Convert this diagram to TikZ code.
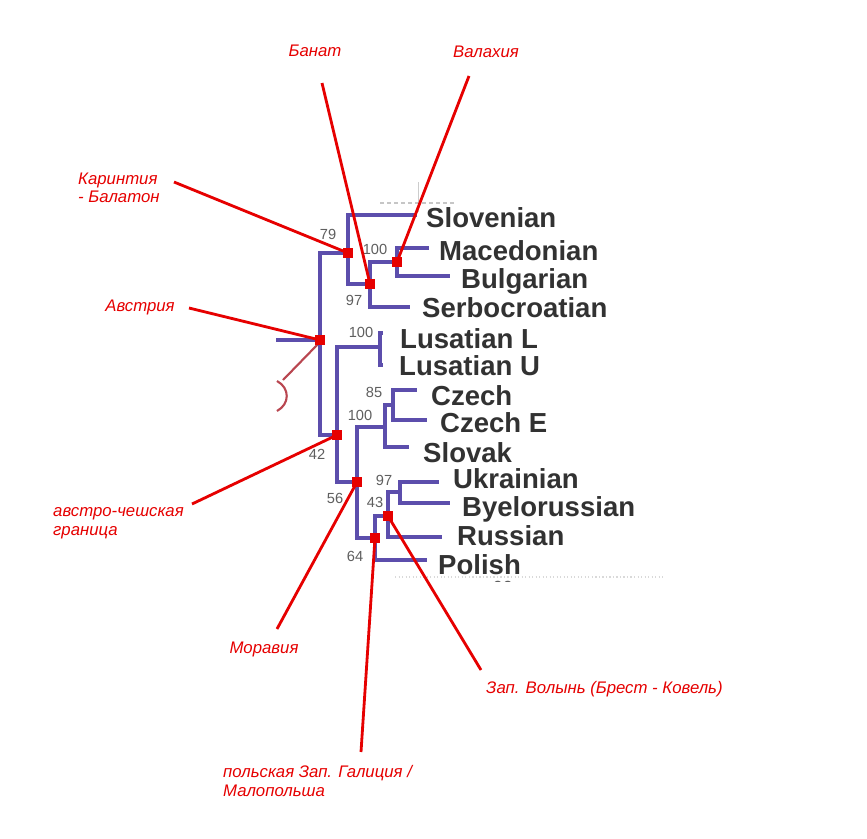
\documentclass[tikz,border=0pt]{standalone}
\usepackage{fontspec}
\setmainfont{Liberation Sans}
\usetikzlibrary{positioning}
\definecolor{treeblue}{RGB}{92,78,172}
\definecolor{notered}{RGB}{230,0,0}
\definecolor{langgray}{RGB}{50,50,50}
\definecolor{bootgray}{RGB}{95,95,95}
\definecolor{oldred}{RGB}{185,70,80}

\begin{document}
\begin{tikzpicture}[
  x=0.03cm, y=-0.03cm,
  branch/.style={draw=treeblue, line width=4.2pt, line cap=rect},
  lang/.style={anchor=base west, inner sep=0pt, text=langgray,
               font=\fontsize{23.5}{26}\selectfont\bfseries},
  boot/.style={inner sep=0pt, text=bootgray, font=\fontsize{12.5}{14}\selectfont},
  region/.style={inner sep=0pt, text=notered, align=left,
                 font=\fontsize{14.3}{15.8}\selectfont\itshape},
  lead/.style={draw=notered, line width=2.4pt},
  redsq/.style={fill=notered, inner sep=0pt, minimum size=8.5pt}
]
\fill[white] (0,0) rectangle (867,838);
\useasboundingbox (0,0) rectangle (867,838);

% inner nodes of the tree
\coordinate (stub) at (278,340);
\coordinate (root) at (320,340);
\coordinate (south) at (348,253);
\coordinate (westeast) at (337,435);
\coordinate (banatn) at (370,284);
\coordinate (walach) at (397,262);
\coordinate (lus) at (380,347);
\coordinate (morav) at (357,482);
\coordinate (czsk) at (385,427);
\coordinate (czpair) at (393,405);
\coordinate (galic) at (375,538);
\coordinate (volyn) at (388,516);
\coordinate (ukrbye) at (400,492);
% leaf tips
\coordinate (slo) at (415,215);
\coordinate (mac) at (427,248);
\coordinate (bul) at (448,276);
\coordinate (ser) at (408,307);
\coordinate (lusl) at (381,333);
\coordinate (lusu) at (381,365);
\coordinate (cze) at (415,390);
\coordinate (czee) at (425,420);
\coordinate (slk) at (407,447);
\coordinate (ukr) at (437,482);
\coordinate (bye) at (448,503);
\coordinate (rus) at (440,537);
\coordinate (pol) at (425,560);

% left-over bits of the scanned figure
\draw[oldred, line width=1.8pt] (319,343) -- (283,380);
\draw[oldred, line width=1.8pt] (277,381) .. controls (290,388) and (290,404) .. (277,411);
\draw[gray!45, dashed, line width=1.5pt] (380,203) -- (455,203);
\draw[gray!40, line width=0.8pt] (418,182) -- (418,212);
\draw[gray!30, dotted, line width=1pt] (395,577) -- (665,577);
\begin{scope}
  \clip (480,568) rectangle (530,581);
  \node[boot, font=\fontsize{15}{16}\selectfont] (b99) at (503,587) {99};
\end{scope}

\draw[branch] (stub) -- (root);
\foreach \a/\b in {root/south, root/westeast, south/slo, south/banatn,
                   banatn/walach, banatn/ser, walach/mac, walach/bul,
                   westeast/lus, westeast/morav, lus/lusl, lus/lusu,
                   morav/czsk, morav/galic, czsk/czpair, czsk/slk,
                   czpair/cze, czpair/czee, galic/volyn, galic/pol,
                   volyn/ukrbye, volyn/rus, ukrbye/ukr, ukrbye/bye}
  \draw[branch] (\a) |- (\b);

% languages
\node[lang] (slovenian) at (426,227) {Slovenian};
\node[lang] (macedonian) at (439,260) {Macedonian};
\node[lang] (bulgarian) at (461,288) {Bulgarian};
\node[lang] (serbocroatian) at (422,317) {Serbocroatian};
\node[lang] (lusatianl) at (400,348) {Lusatian L};
\node[lang] (lusatianu) at (399,375) {Lusatian U};
\node[lang] (czech) at (431,405) {Czech};
\node[lang] (czeche) at (440,432) {Czech E};
\node[lang] (slovak) at (423,462) {Slovak};
\node[lang] (ukrainian) at (453,488) {Ukrainian};
\node[lang] (byelorussian) at (462,516) {Byelorussian};
\node[lang] (russian) at (457,545) {Russian};
\node[lang] (polish) at (438,574) {Polish};

% bootstrap values
\node[boot] (b79) at (328,234) {79};
\node[boot] (b100a) at (375,249) {100};
\node[boot] (b97a) at (354,300) {97};
\node[boot] (b100b) at (361,332) {100};
\node[boot] (b85) at (374,392) {85};
\node[boot] (b100c) at (360,415) {100};
\node[boot] (b42) at (317,454) {42};
\node[boot] (b56) at (335,498) {56};
\node[boot] (b97b) at (384,480) {97};
\node[boot] (b43) at (375,502) {43};
\node[boot] (b64) at (355,556) {64};

% regions
\node[region] (banat) at (315,51) {Банат};
\node[region] (valahia) at (486,52) {Валахия};
\node[region, anchor=west] (karint) at (78,188) {Каринтия\\- Балатон};
\node[region] (avstria) at (140,307) {Австрия};
\node[region, anchor=west] (granica) at (53,523) {австро-чешская\\граница};
\node[region] (moravia) at (264,649) {Моравия};
\node[region, anchor=west] (galicia) at (223,781) {польская Зап. Галиция /\\Малопольша};
\node[region, anchor=west] (volynlab) at (486,689) {Зап. Волынь (Брест - Ковель)};

\coordinate (banat-a) at (322,83);
\coordinate (valahia-a) at (469,76);
\coordinate (karint-a) at (174,182);
\coordinate (avstria-a) at (189,308);
\coordinate (granica-a) at (192,504);
\coordinate (moravia-a) at (277,629);
\coordinate (galicia-a) at (361,752);
\coordinate (volynlab-a) at (481,670);

\foreach \a/\b in {banat-a/banatn, valahia-a/walach, karint-a/south,
                   avstria-a/root, granica-a/westeast, moravia-a/morav,
                   galicia-a/galic, volynlab-a/volyn}
  \draw[lead] (\a) -- (\b);
\foreach \c in {banatn, walach, south, root, westeast, morav, galic, volyn}
  \node[redsq] (sq-\c) at (\c) {};
\end{tikzpicture}
\end{document}
